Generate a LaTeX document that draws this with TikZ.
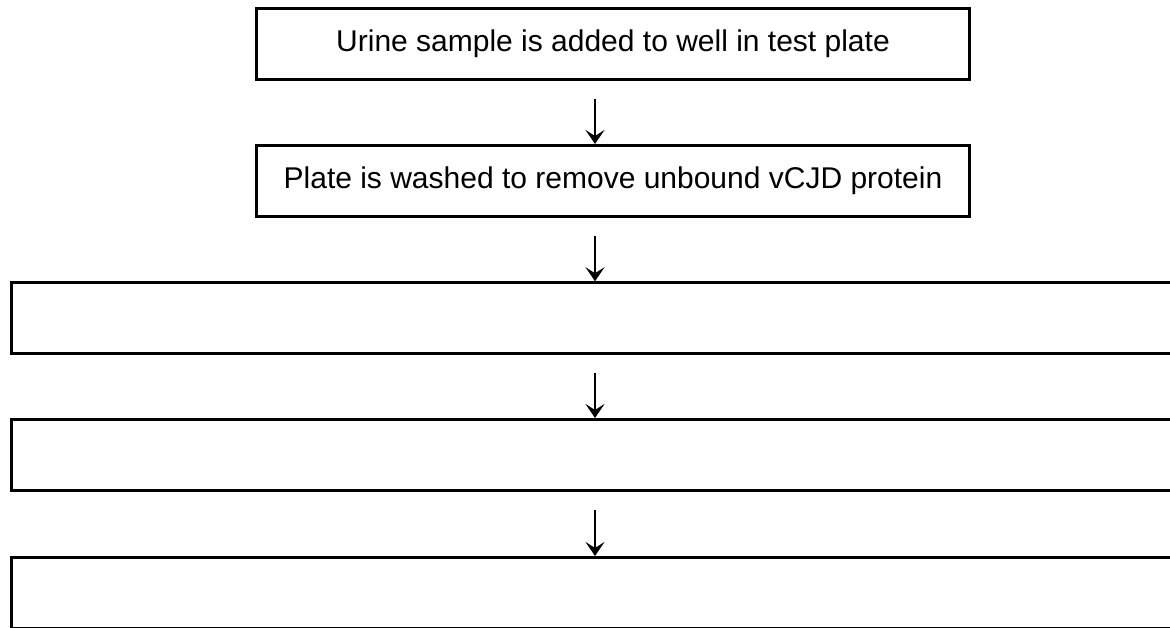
\documentclass[tikz,border=0pt]{standalone}
\usepackage{fontspec}
\setmainfont{Liberation Sans}
\usetikzlibrary{arrows.meta}
\tikzset{
  blk/.style={draw, line width=3pt, inner sep=0pt, align=center,
              minimum height=71pt, font=\fontsize{30}{36}\selectfont},
  shortblk/.style={blk, minimum width=713pt},
  longblk/.style={blk, minimum width=1164pt},
  ar/.style={-{Stealth[length=14pt, width=19pt, inset=6pt]}, line width=2pt, shorten <=18pt},
}

\begin{document}
\begin{tikzpicture}[x=1pt, y=-1pt]
    \useasboundingbox (0,0) rectangle (1170,628);
    \clip (0,0) rectangle (1170,628);
    \node[shortblk] (urine) at (613,43.75) {Urine sample is added to well in test plate};
    \node[shortblk] (wash) at (613,181) {Plate is washed to remove unbound vCJD protein};
    \node[longblk] (stepc) at (593,318.25) {};
    \node[longblk] (stepd) at (593,455) {};
    \node[longblk] (stepe) at (593,593) {};
    \coordinate (ax) at (595,0);
    \draw[ar] (urine.south -| ax) -- (wash.north -| ax); \draw[ar] (wash.south -| ax) -- (stepc.north -| ax);
    \draw[ar] (stepc.south -| ax) -- (stepd.north -| ax); \draw[ar] (stepd.south -| ax) -- (stepe.north -| ax);
\end{tikzpicture}
\end{document}
